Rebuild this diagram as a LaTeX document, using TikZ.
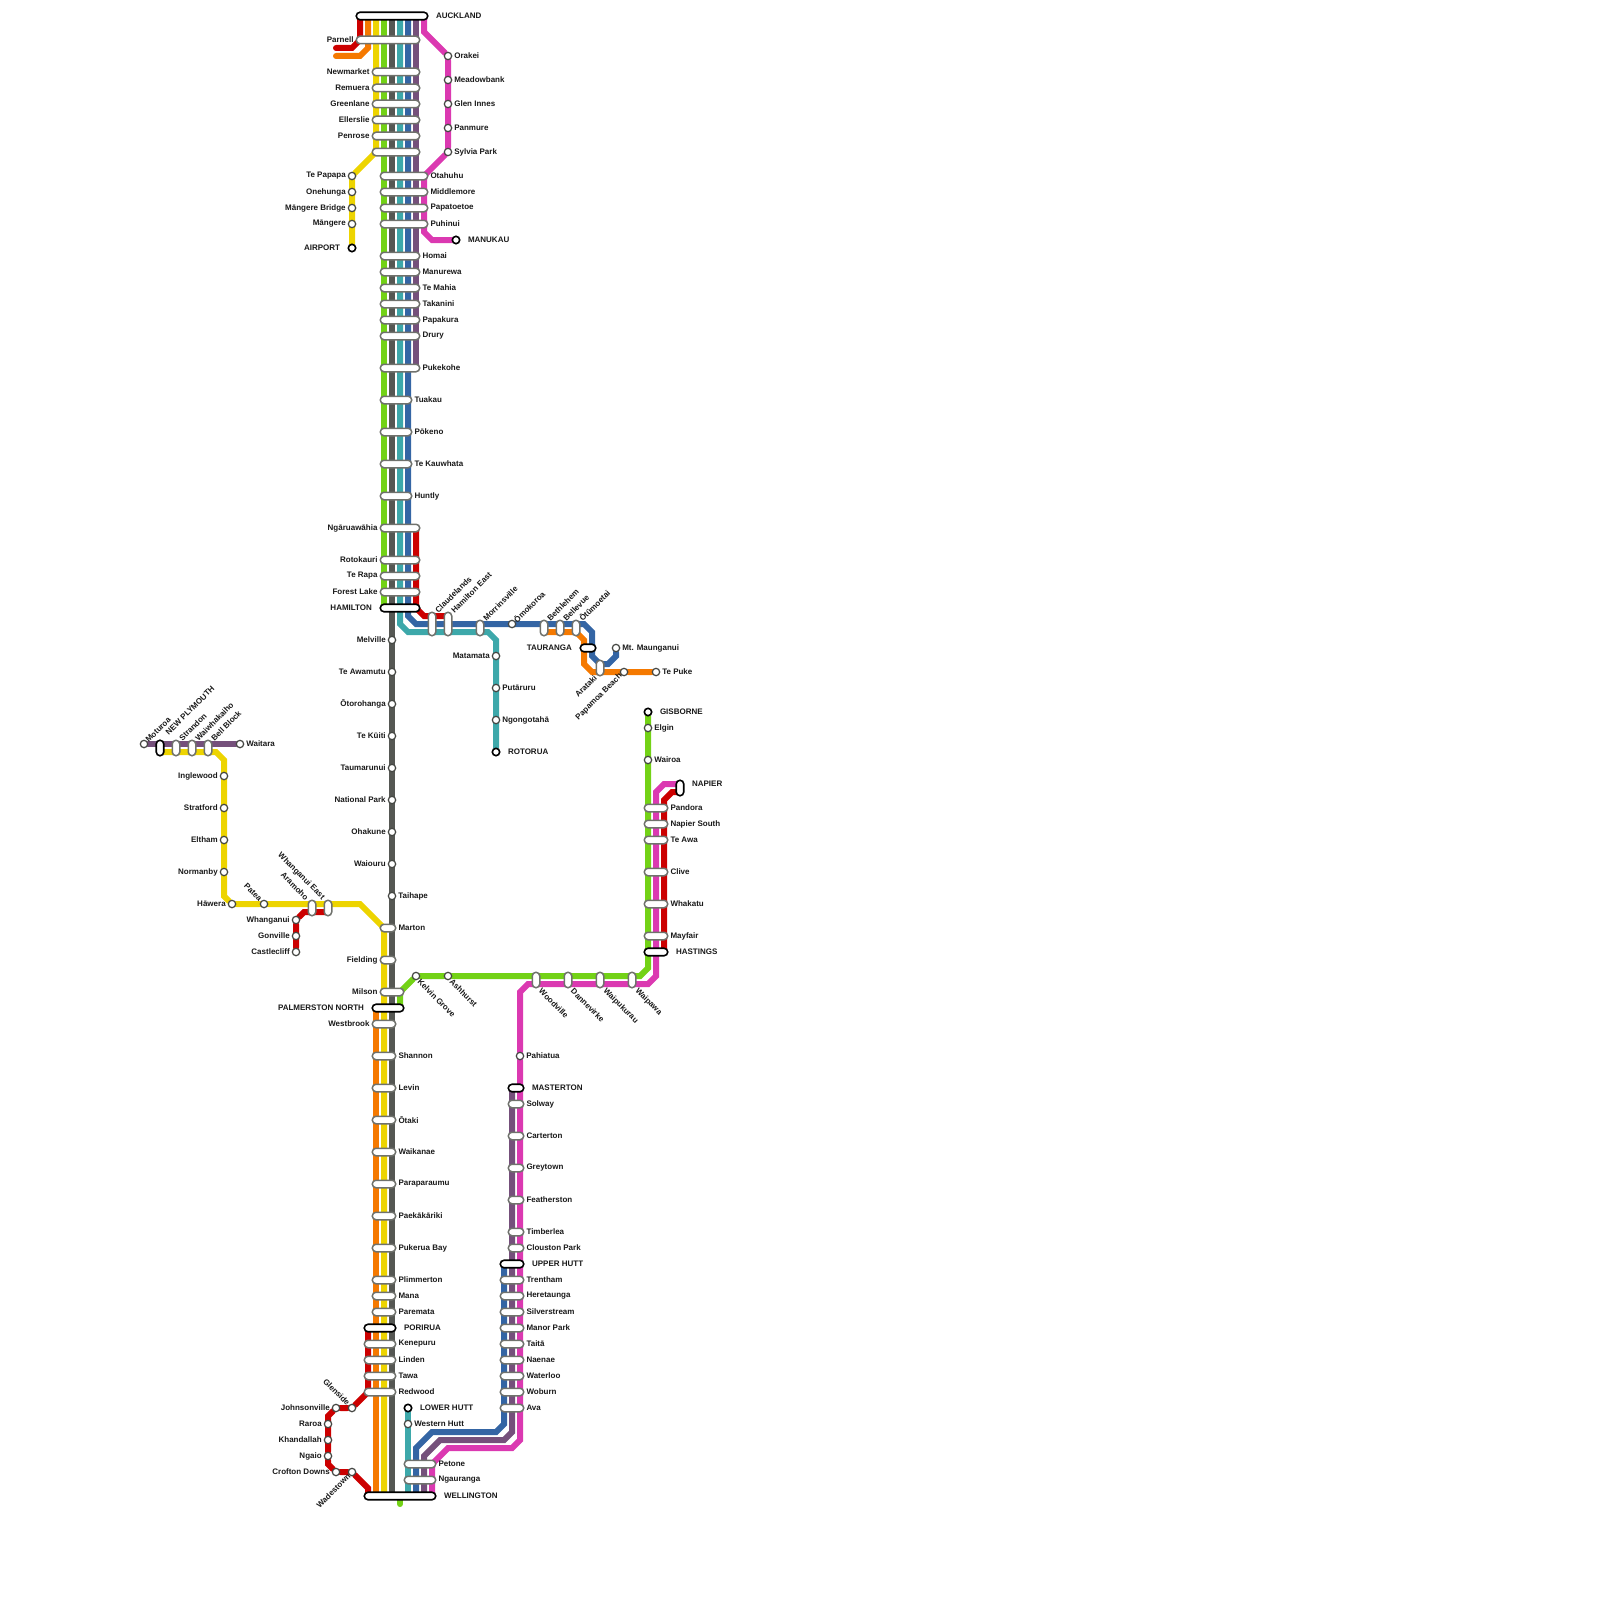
\documentclass[tikz,border=0pt]{standalone}
\usepackage{fontspec}
\setmainfont{Liberation Sans}
\definecolor{lred}{HTML}{CC0000}
\definecolor{lorange}{HTML}{F57900}
\definecolor{lyellow}{HTML}{EDD400}
\definecolor{lgreen}{HTML}{73D216}
\definecolor{lgrey}{HTML}{555753}
\definecolor{lteal}{HTML}{3DA8AA}
\definecolor{lblue}{HTML}{3465A4}
\definecolor{lpurple}{HTML}{75507B}
\definecolor{lmagenta}{HTML}{DB39B1}
\definecolor{capedge}{HTML}{70726D}
\usetikzlibrary{calc,backgrounds}

\begin{document}
\begin{tikzpicture}[
  x=1pt,y=-1pt,
  track/.style={line width=6pt,line cap=round},
  lab/.style={font=\fontsize{8}{9}\selectfont\bfseries,inner sep=0pt,outer sep=0pt,text=black!90},
  stn/.style={circle,draw=lgrey!80!black,fill=white,line width=1.2pt,minimum size=7.4pt,inner sep=0pt},
  hcap/.style={draw=capedge,fill=white,line width=1.5pt,rounded corners=3.75pt,inner sep=0pt,
               minimum height=7.5pt,minimum width={#1pt+7.5pt}},
  vcap/.style={draw=capedge,fill=white,line width=1.5pt,rounded corners=3.75pt,inner sep=0pt,
               minimum width=7.5pt,minimum height={#1pt+7.5pt}},
  term/.style={draw=black,line width=1.6pt},
  lr/.style={label={[lab,label distance=2pt]right:#1}},
  ll/.style={label={[lab,label distance=2pt]left:#1}},
  tr/.style={label={[lab,label distance=7.5pt]right:#1}},
  tl/.style={label={[lab,label distance=7.5pt]left:#1}},
  ne/.style={label={[lab,rotate=45,anchor=west,label distance=0pt]north east:#1}},
  se/.style={label={[lab,rotate=-45,anchor=west,label distance=0pt,xshift=1pt,yshift=-1pt]south east:#1}},
  nw/.style={label={[lab,rotate=-45,anchor=east,label distance=0pt,xshift=-1pt,yshift=0.5pt]north west:#1}},
  sw/.style={label={[lab,rotate=45,anchor=east,label distance=0pt]south west:#1}}
]
  \useasboundingbox (0,0) rectangle (1600,1600);
  \foreach \x in {360,368,...,432} \coordinate (c\x) at (\x,0);
  \foreach \x in {504,512,520} \coordinate (c\x) at (\x,0);

  % Auckland
  \node[hcap=64,term,tr=AUCKLAND] (auckland) at (392,16) {};
  \node[hcap=56,ll=Parnell] (parnell) at (388,40) {};
  \node[hcap=40,ll=Newmarket] (newmarket) at (396,72) {};
  \node[hcap=40,ll=Remuera] (remuera) at (396,88) {};
  \node[hcap=40,ll=Greenlane] (greenlane) at (396,104) {};
  \node[hcap=40,ll=Ellerslie] (ellerslie) at (396,120) {};
  \node[hcap=40,ll=Penrose] (penrose) at (396,136) {};
  \node[hcap=40] (split) at (396,152) {};
  \node[stn,lr=Orakei] (orakei) at (448,56) {};
  \node[stn,lr=Meadowbank] (meadowbank) at (448,80) {};
  \node[stn,lr=Glen Innes] (gleninnes) at (448,104) {};
  \node[stn,lr=Panmure] (panmure) at (448,128) {};
  \node[stn,lr=Sylvia Park] (sylviapark) at (448,152) {};
  \node[stn,ll=Te Papapa] (tepapapa) at (352,176) {};
  \node[stn,ll=Onehunga] (onehunga) at (352,192) {};
  \node[stn,ll=Māngere Bridge] (mangerebridge) at (352,208) {};
  \node[stn,ll=Māngere] (mangere) at (352,224) {};
  \node[stn,term,tl=AIRPORT] (airport) at (352,248) {};
  \node[hcap=40,lr=Otahuhu] (otahuhu) at (404,176) {};
  \node[hcap=40,lr=Middlemore] (middlemore) at (404,192) {};
  \node[hcap=40,lr=Papatoetoe] (papatoetoe) at (404,208) {};
  \node[hcap=40,lr=Puhinui] (puhinui) at (404,224) {};
  \node[stn,term,tr=MANUKAU] (manukau) at (456,240) {};
  \node[hcap=32,lr=Homai] (homai) at (400,256) {};
  \node[hcap=32,lr=Manurewa] (manurewa) at (400,272) {};
  \node[hcap=32,lr=Te Mahia] (temahia) at (400,288) {};
  \node[hcap=32,lr=Takanini] (takanini) at (400,304) {};
  \node[hcap=32,lr=Papakura] (papakura) at (400,320) {};
  \node[hcap=32,lr=Drury] (drury) at (400,336) {};
  \node[hcap=32,lr=Pukekohe] (pukekohe) at (400,368) {};

  % Waikato
  \node[hcap=24,lr=Tuakau] (tuakau) at (396,400) {};
  \node[hcap=24,lr=Pōkeno] (pokeno) at (396,432) {};
  \node[hcap=24,lr=Te Kauwhata] (tekauwhata) at (396,464) {};
  \node[hcap=24,lr=Huntly] (huntly) at (396,496) {};
  \node[hcap=32,ll=Ngāruawāhia] (ngaruawahia) at (400,528) {};
  \node[hcap=32,ll=Rotokauri] (rotokauri) at (400,560) {};
  \node[hcap=32,ll=Te Rapa] (terapa) at (400,576) {};
  \node[hcap=32,ll=Forest Lake] (forestlake) at (400,592) {};
  \node[hcap=32,term,tl=HAMILTON] (hamilton) at (400,608) {};
  \node[vcap=16,ne=Claudelands] (claudelands) at (432,624) {};
  \node[vcap=16,ne=Hamilton East] (hamiltoneast) at (448,624) {};
  \node[vcap=8,ne=Morrinsville] (morrinsville) at (480,628) {};
  \node[stn,ne=Ōmokoroa] (omokoroa) at (512,624) {};
  \node[vcap=8,ne=Bethlehem] (bethlehem) at (544,628) {};
  \node[vcap=8,ne=Bellevue] (bellevue) at (560,628) {};
  \node[vcap=8,ne=Ōtūmoetai] (otumoetai) at (576,628) {};
  \node[hcap=8,term,tl=TAURANGA] (tauranga) at (588,648) {};
  \node[stn,lr=Mt. Maunganui] (mtmaunganui) at (616,648) {};
  \node[vcap=8,sw=Arataki] (arataki) at (600,668) {};
  \node[stn,sw=Papamoa Beach] (papamoabeach) at (624,672) {};
  \node[stn,lr=Te Puke] (tepuke) at (656,672) {};
  \node[stn,ll=Matamata] (matamata) at (496,656) {};
  \node[stn,lr=Putāruru] (putaruru) at (496,688) {};
  \node[stn,lr=Ngongotahā] (ngongotaha) at (496,720) {};
  \node[stn,term,tr=ROTORUA] (rotorua) at (496,752) {};

  % Main trunk
  \node[stn,ll=Melville] (melville) at (392,640) {};
  \node[stn,ll=Te Awamutu] (teawamutu) at (392,672) {};
  \node[stn,ll=Ōtorohanga] (otorohanga) at (392,704) {};
  \node[stn,ll=Te Kūiti] (tekuiti) at (392,736) {};
  \node[stn,ll=Taumarunui] (taumarunui) at (392,768) {};
  \node[stn,ll=National Park] (nationalpark) at (392,800) {};
  \node[stn,ll=Ohakune] (ohakune) at (392,832) {};
  \node[stn,ll=Waiouru] (waiouru) at (392,864) {};
  \node[stn,lr=Taihape] (taihape) at (392,896) {};
  \node[hcap=8,lr=Marton] (marton) at (388,928) {};
  \node[hcap=8,ll=Fielding] (fielding) at (388,960) {};
  \node[hcap=16,ll=Milson] (milson) at (392,992) {};
  \node[hcap=24,term,tl=PALMERSTON NORTH] (palmerston) at (388,1008) {};
  \node[hcap=16,ll=Westbrook] (westbrook) at (384,1024) {};
  \node[hcap=16,lr=Shannon] (shannon) at (384,1056) {};
  \node[hcap=16,lr=Levin] (levin) at (384,1088) {};
  \node[hcap=16,lr=Ōtaki] (otaki) at (384,1120) {};
  \node[hcap=16,lr=Waikanae] (waikanae) at (384,1152) {};
  \node[hcap=16,lr=Paraparaumu] (paraparaumu) at (384,1184) {};
  \node[hcap=16,lr=Paekākāriki] (paekakariki) at (384,1216) {};
  \node[hcap=16,lr=Pukerua Bay] (pukeruabay) at (384,1248) {};
  \node[hcap=16,lr=Plimmerton] (plimmerton) at (384,1280) {};
  \node[hcap=16,lr=Mana] (mana) at (384,1296) {};
  \node[hcap=16,lr=Paremata] (paremata) at (384,1312) {};
  \node[hcap=24,term,tr=PORIRUA] (porirua) at (380,1328) {};
  \node[hcap=24,lr=Kenepuru] (kenepuru) at (380,1344) {};
  \node[hcap=24,lr=Linden] (linden) at (380,1360) {};
  \node[hcap=24,lr=Tawa] (tawa) at (380,1376) {};
  \node[hcap=24,lr=Redwood] (redwood) at (380,1392) {};
  \node[hcap=64,term,tr=WELLINGTON] (wellington) at (400,1496) {};

  % Johnsonville branch
  \node[stn,nw=Glenside] (glenside) at (352,1408) {};
  \node[stn,ll=Johnsonville] (johnsonville) at (336,1408) {};
  \node[stn,ll=Raroa] (raroa) at (328,1424) {};
  \node[stn,ll=Khandallah] (khandallah) at (328,1440) {};
  \node[stn,ll=Ngaio] (ngaio) at (328,1456) {};
  \node[stn,ll=Crofton Downs] (croftondowns) at (336,1472) {};
  \node[stn,sw=Wadestown] (wadestown) at (352,1472) {};

  % Hutt Valley and Wairarapa
  \node[stn,term,tr=LOWER HUTT] (lowerhutt) at (408,1408) {};
  \node[stn,lr=Western Hutt] (westernhutt) at (408,1424) {};
  \node[hcap=24,lr=Petone] (petone) at (420,1464) {};
  \node[hcap=24,lr=Ngauranga] (ngauranga) at (420,1480) {};
  \node[stn,lr=Pahiatua] (pahiatua) at (520,1056) {};
  \node[hcap=8,term,tr=MASTERTON] (masterton) at (516,1088) {};
  \node[hcap=8,lr=Solway] (solway) at (516,1104) {};
  \node[hcap=8,lr=Carterton] (carterton) at (516,1136) {};
  \node[hcap=8,lr=Greytown] (greytown) at (516,1168) {};
  \node[hcap=8,lr=Featherston] (featherston) at (516,1200) {};
  \node[hcap=8,lr=Timberlea] (timberlea) at (516,1232) {};
  \node[hcap=8,lr=Clouston Park] (cloustonpark) at (516,1248) {};
  \node[hcap=16,term,tr=UPPER HUTT] (upperhutt) at (512,1264) {};
  \node[hcap=16,lr=Trentham] (trentham) at (512,1280) {};
  \node[hcap=16,lr=Heretaunga] (heretaunga) at (512,1296) {};
  \node[hcap=16,lr=Silverstream] (silverstream) at (512,1312) {};
  \node[hcap=16,lr=Manor Park] (manorpark) at (512,1328) {};
  \node[hcap=16,lr=Taitā] (taita) at (512,1344) {};
  \node[hcap=16,lr=Naenae] (naenae) at (512,1360) {};
  \node[hcap=16,lr=Waterloo] (waterloo) at (512,1376) {};
  \node[hcap=16,lr=Woburn] (woburn) at (512,1392) {};
  \node[hcap=16,lr=Ava] (ava) at (512,1408) {};

  % Manawatu and Hawke's Bay
  \node[stn,se=Kelvin Grove] (kelvingrove) at (416,976) {};
  \node[stn,se=Ashhurst] (ashhurst) at (448,976) {};
  \node[vcap=8,se=Woodville] (woodville) at (536,980) {};
  \node[vcap=8,se=Dannevirke] (dannevirke) at (568,980) {};
  \node[vcap=8,se=Waipukurau] (waipukurau) at (600,980) {};
  \node[vcap=8,se=Waipawa] (waipawa) at (632,980) {};
  \node[stn,term,tr=GISBORNE] (gisborne) at (648,712) {};
  \node[stn,lr=Elgin] (elgin) at (648,728) {};
  \node[stn,lr=Wairoa] (wairoa) at (648,760) {};
  \node[vcap=8,term,label={[lab,label distance=7.5pt,yshift=4pt]right:NAPIER}] (napier) at (680,788) {};
  \node[hcap=16,lr=Pandora] (pandora) at (656,808) {};
  \node[hcap=16,lr=Napier South] (napiersouth) at (656,824) {};
  \node[hcap=16,lr=Te Awa] (teawa) at (656,840) {};
  \node[hcap=16,lr=Clive] (clive) at (656,872) {};
  \node[hcap=16,lr=Whakatu] (whakatu) at (656,904) {};
  \node[hcap=16,lr=Mayfair] (mayfair) at (656,936) {};
  \node[hcap=16,term,tr=HASTINGS] (hastings) at (656,952) {};

  % Taranaki and Whanganui
  \node[stn,ne=Moturoa] (moturoa) at (144,744) {};
  \node[vcap=8,term,label={[lab,rotate=45,anchor=west,xshift=6pt,yshift=2.5pt]north east:NEW PLYMOUTH}] (newplymouth) at (160,748) {};
  \node[vcap=8,ne=Strandon] (strandon) at (176,748) {};
  \node[vcap=8,ne=Waiwhakaiho] (waiwhakaiho) at (192,748) {};
  \node[vcap=8,ne=Bell Block] (bellblock) at (208,748) {};
  \node[stn,lr=Waitara] (waitara) at (240,744) {};
  \node[stn,ll=Inglewood] (inglewood) at (224,776) {};
  \node[stn,ll=Stratford] (stratford) at (224,808) {};
  \node[stn,ll=Eltham] (eltham) at (224,840) {};
  \node[stn,ll=Normanby] (normanby) at (224,872) {};
  \node[stn,ll=Hāwera] (hawera) at (232,904) {};
  \node[stn,nw=Patea] (patea) at (264,904) {};
  \node[vcap=8,nw=Aramoho] (aramoho) at (312,908) {};
  \node[vcap=8,nw=Whanganui East] (whanganuieast) at (328,908) {};
  \node[stn,ll=Whanganui] (whanganui) at (296,920) {};
  \node[stn,ll=Gonville] (gonville) at (296,936) {};
  \node[stn,ll=Castlecliff] (castlecliff) at (296,952) {};

  \begin{scope}[on background layer]
    % trunk columns out of Auckland
    \draw[track,lred] (c360|-auckland) -- (c360|-parnell) -- ++(-8,8) -- ++(-16,0);
    \draw[track,lorange] (c368|-auckland) -- (c368|-parnell) -- ++(0,8) -- ++(-8,8) -- ++(-24,0);
    \draw[track,lyellow] (c376|-auckland) -- (c376|-split) -- (tepapapa) -- (airport);
    \draw[track,lgreen] (c384|-auckland) -- (c384|-hamilton);
    \draw[track,lgrey] (c392|-auckland) -- (c392|-wellington);
    \draw[track,lteal] (c400|-auckland) -- (c400|-hamilton) -- ++(0,16) -- ++(8,8) -- ++(80,0) -- ++(8,8) -- (rotorua);
    \draw[track,lblue] (c408|-auckland) -- (c408|-hamilton) -- ++(0,8) -- ++(8,8) -- ++(168,0) -- ++(8,8)
      -- ++(0,24) -- ++(8,8) -- ++(8,0) -- ++(8,-8) -- (mtmaunganui);
    \draw[track,lpurple] (c416|-auckland) -- (c416|-pukekohe);
    \draw[track,lmagenta] (c424|-auckland) -- ++(0,16) -- (orakei) -- (sylviapark) -- (c424|-otahuhu)
      -- (c424|-puhinui) -- ++(0,8) -- ++(8,8) -- (manukau);
    \draw[track,lred] (c416|-ngaruawahia) -- (c416|-hamilton) -- ++(8,8) -- ++(24,0);
    \draw[track,lorange] ($(bethlehem)+(0,4)$) -- ++(32,0) -- ++(8,8) -- ++(0,24) -- ++(8,8)
      -- (papamoabeach) -- (tepuke);
    % west coast
    \draw[track,lpurple] (moturoa) -- (waitara);
    \draw[track,lyellow] ($(newplymouth)+(0,4)$) -- ++(56,0) -- ++(8,8) -- (normanby) -- ++(0,24) -- (hawera)
      -- (patea) -- ++(96,0) -- (c384|-marton) -- (c384|-wellington);
    \draw[track,lred] (castlecliff) -- (whanganui) -- ++(8,-8) -- ++(24,0);
    \draw[track,lorange] (c376|-palmerston) -- (c376|-wellington);
    \draw[track,lred] (c368|-porirua) -- (c368|-redwood) -- (glenside) -- (johnsonville) -- ++(-8,8)
      -- (ngaio) -- ++(0,8) -- (croftondowns) -- (wadestown) -- ++(16,16) -- (c368|-wellington);
    % east coast
    \draw[track,lgreen] (c400|-palmerston) -- ++(0,-16) -- (kelvingrove) -- (ashhurst) -- ++(192,0) -- ++(8,-8) -- (gisborne);
    \draw[track,lgreen] (c400|-wellington) -- ++(0,8);
    \draw[track,lmagenta] ($(napier)+(0,-4)$) -- ++(-16,0) -- ++(-8,8) -- ++(0,184) -- ++(-8,8) -- ++(-120,0)
      -- ++(-8,8) -- (pahiatua) -- ++(0,384) -- ++(-8,8) -- ++(-64,0) -- ++(-16,16) -- (c432|-wellington);
    \draw[track,lred] ($(napier)+(0,4)$) -- ++(-8,0) -- ++(-8,8) -- ++(0,152);
    \draw[track,lpurple] (c512|-masterton) -- ++(0,344) -- ++(-8,8) -- ++(-64,0) -- ++(-16,16) -- (c424|-wellington);
    \draw[track,lblue] (c504|-upperhutt) -- ++(0,160) -- ++(-8,8) -- ++(-64,0) -- ++(-16,16) -- (c416|-wellington);
    \draw[track,lteal] (lowerhutt) -- (c408|-wellington);
  \end{scope}
\end{tikzpicture}
\end{document}
